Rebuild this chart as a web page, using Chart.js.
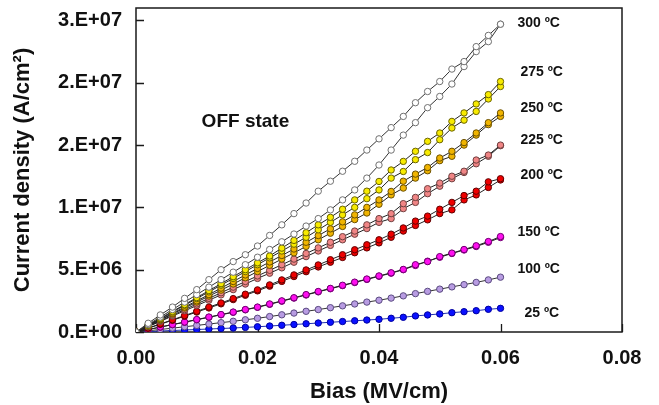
<!DOCTYPE html>
<html>
<head>
<meta charset="utf-8">
<script src="https://cdn.jsdelivr.net/npm/chart.js@4.4.1/dist/chart.umd.min.js"></script>
<style>
  html, body { margin: 0; padding: 0; background: #fff; }
  #wrap { width: 659px; height: 405px; }
</style>
</head>
<body>
<div id="wrap"><canvas id="chart" width="659" height="405"></canvas></div>
<script>
// Bias (MV/cm), same steps for every sweep
const bias = [0.000, 0.002, 0.004, 0.006, 0.008, 0.010, 0.012, 0.014, 0.016, 0.018, 0.020,
  0.022, 0.024, 0.026, 0.028, 0.030, 0.032, 0.034, 0.036, 0.038, 0.040,
  0.042, 0.044, 0.046, 0.048, 0.050, 0.052, 0.054, 0.056, 0.058, 0.060];

// Current density, in 1E+06 A/cm2 (two sweeps per temperature for most of them)
const j25 = [0, 0.03, 0.08, 0.12, 0.16, 0.20, 0.24, 0.28, 0.32, 0.37, 0.42, 0.48, 0.54, 0.60, 0.66, 0.72, 0.78, 0.84, 0.90, 0.96, 1.02, 1.10, 1.18, 1.29, 1.37, 1.45, 1.55, 1.63, 1.71, 1.82, 1.90];
const j100 = [0, 0.10, 0.20, 0.31, 0.42, 0.53, 0.64, 0.75, 0.86, 0.98, 1.10, 1.24, 1.38, 1.52, 1.66, 1.80, 1.95, 2.10, 2.25, 2.40, 2.55, 2.72, 2.90, 3.08, 3.26, 3.44, 3.62, 3.80, 3.98, 4.18, 4.40];
const j150a = [0, 0.20, 0.40, 0.60, 0.80, 1.00, 1.20, 1.40, 1.60, 1.80, 2.00, 2.25, 2.50, 2.75, 3.00, 3.25, 3.50, 3.75, 4.00, 4.25, 4.50, 4.75, 5.02, 5.40, 5.65, 6.05, 6.33, 6.62, 6.92, 7.26, 7.66];
const j150b = [0, 0.19, 0.39, 0.59, 0.78, 0.98, 1.18, 1.38, 1.58, 1.78, 1.98, 2.22, 2.47, 2.72, 2.97, 3.22, 3.47, 3.72, 3.97, 4.22, 4.47, 4.72, 5.00, 5.34, 5.68, 6.00, 6.30, 6.58, 6.86, 7.20, 7.58];
const j200a = [0, 0.32, 0.65, 0.98, 1.32, 1.66, 2.00, 2.33, 2.68, 3.03, 3.38, 3.78, 4.18, 4.58, 4.98, 5.38, 5.80, 6.20, 6.60, 7.00, 7.40, 7.85, 8.35, 8.90, 9.30, 9.85, 10.40, 10.95, 11.30, 12.05, 12.30];
const j200b = [0, 0.30, 0.62, 0.94, 1.27, 1.60, 1.93, 2.26, 2.60, 2.95, 3.30, 3.68, 4.06, 4.45, 4.84, 5.22, 5.60, 5.98, 6.36, 6.75, 7.15, 7.60, 8.10, 8.55, 9.00, 9.50, 9.80, 10.60, 11.00, 11.60, 12.20];
const j225a = [0, 0.45, 0.90, 1.35, 1.80, 2.25, 2.70, 3.15, 3.60, 4.05, 4.50, 4.95, 5.40, 5.85, 6.30, 6.75, 7.20, 7.65, 8.10, 8.60, 9.10, 9.50, 10.30, 10.80, 11.50, 11.95, 12.50, 12.90, 13.80, 14.20, 15.00];
const j225b = [0, 0.42, 0.85, 1.28, 1.70, 2.12, 2.55, 2.98, 3.40, 3.85, 4.30, 4.72, 5.15, 5.60, 6.05, 6.50, 6.95, 7.40, 7.85, 8.30, 8.80, 9.10, 9.90, 10.40, 11.10, 11.70, 12.30, 12.80, 13.50, 14.10, 14.95];
const j250a = [0, 0.50, 1.00, 1.50, 2.00, 2.50, 3.00, 3.52, 4.05, 4.58, 5.10, 5.62, 6.14, 6.66, 7.20, 7.74, 8.28, 8.84, 9.40, 10.00, 10.60, 11.28, 12.10, 12.67, 13.20, 13.96, 14.50, 15.20, 15.97, 16.80, 17.58];
const j250b = [0, 0.48, 0.96, 1.44, 1.92, 2.40, 2.88, 3.36, 3.85, 4.35, 4.85, 5.35, 5.85, 6.35, 6.87, 7.40, 7.93, 8.47, 9.02, 9.55, 10.25, 11.00, 11.55, 12.35, 12.94, 13.75, 14.10, 15.00, 15.80, 16.64, 17.30];
const j275a = [0, 0.55, 1.10, 1.65, 2.20, 2.76, 3.32, 3.88, 4.44, 5.00, 5.55, 6.10, 6.73, 7.35, 7.97, 8.60, 9.20, 9.85, 10.60, 11.30, 12.08, 13.00, 13.69, 14.50, 15.30, 15.97, 16.90, 17.58, 18.30, 19.05, 20.10];
const j275b = [0, 0.53, 1.06, 1.60, 2.14, 2.68, 3.22, 3.76, 4.30, 4.85, 5.40, 5.95, 6.50, 7.05, 7.60, 8.20, 8.80, 9.40, 10.00, 10.70, 11.40, 12.35, 12.88, 13.83, 14.40, 15.43, 16.37, 17.00, 17.70, 18.70, 19.70];
const j300a = [0, 0.70, 1.37, 2.00, 2.70, 3.40, 4.20, 5.00, 5.65, 6.20, 6.90, 7.75, 8.60, 9.50, 10.35, 11.30, 12.10, 12.90, 13.70, 14.60, 15.50, 16.40, 17.30, 18.40, 19.30, 20.10, 21.10, 21.70, 22.90, 23.80, 24.70];
const j300b = [0, 0.60, 1.20, 1.80, 2.40, 3.00, 3.60, 4.20, 4.80, 5.40, 6.00, 6.62, 7.24, 7.86, 8.50, 9.10, 9.80, 10.60, 11.40, 12.35, 13.40, 14.60, 15.80, 16.80, 18.00, 18.90, 19.90, 21.30, 22.50, 23.30, 24.70];

// axis ticks, as printed on the figure
const xTickValues = [0, 0.02, 0.04, 0.06, 0.08];
const xTickLabels = ['0.00', '0.02', '0.04', '0.06', '0.08'];
const yTickValues = [0, 5e6, 1e7, 1.5e7, 2e7, 2.5e7];
const yTickLabels = ['0.E+00', '5.E+06', '1.E+07', '2.E+07', '2.E+07', '3.E+07'];

const tempNames = ['300 ºC', '275 ºC', '250 ºC', '225 ºC', '200 ºC', '150 ºC', '100 ºC', '25 ºC'];

const FONT = "'Liberation Sans', Arial, sans-serif";

// one entry per temperature: sweeps, marker colours, label nudge (px)
const groups = [
  { name: tempNames[0], sweeps: [j300a, j300b], fill: '#ffffff', edge: '#707070', line: '#333333', dx: 17, dy: -1 },
  { name: tempNames[1], sweeps: [j275a, j275b], fill: '#f7ea00', edge: '#6b6400', line: '#222222', dx: 20, dy: -9 },
  { name: tempNames[2], sweeps: [j250a, j250b], fill: '#f0b400', edge: '#6b5000', line: '#222222', dx: 20, dy: -5 },
  { name: tempNames[3], sweeps: [j225a, j225b], fill: '#f08585', edge: '#704040', line: '#222222', dx: 20, dy: -5 },
  { name: tempNames[4], sweeps: [j200a, j200b], fill: '#ee0000', edge: '#600000', line: '#222222', dx: 20, dy: -4 },
  { name: tempNames[5], sweeps: [j150a, j150b], fill: '#ff10f0', edge: '#700070', line: '#222222', dx: 17, dy: -4 },
  { name: tempNames[6], sweeps: [j100], fill: '#b89ce2', edge: '#5a4a80', line: '#333333', dx: 17, dy: -8 },
  { name: tempNames[7], sweeps: [j25], fill: '#0a10ff', edge: '#0000a0', line: '#2030b0', dx: 24, dy: 5 }
];

const datasets = [];
groups.forEach(g => {
  g.sweeps.forEach(s => {
    datasets.push({
      data: s.map((v, i) => ({ x: bias[i], y: v * 1e6 })),
      showLine: true,
      borderColor: g.line,
      borderWidth: 1,
      pointRadius: 3.2,
      pointBorderWidth: 1,
      pointBackgroundColor: g.fill,
      pointBorderColor: g.edge,
      tension: 0
    });
  });
});

// frame, inside tick marks and the text notes
const decor = {
  id: 'decor',
  beforeDatasetsDraw(chart) {
    const { ctx, chartArea: a, scales: { x, y } } = chart;
    ctx.save();
    ctx.strokeStyle = '#1a1a1a';
    ctx.lineWidth = 1.5;
    ctx.strokeRect(a.left, a.top, a.right - a.left, a.bottom - a.top);
    ctx.lineWidth = 1.3;
    ctx.beginPath();
    y.ticks.forEach(t => {
      const py = Math.round(y.getPixelForValue(t.value)) + 0.5;
      ctx.moveTo(a.left, py);
      ctx.lineTo(a.left + 8, py);
    });
    x.ticks.forEach(t => {
      const px = Math.round(x.getPixelForValue(t.value)) + 0.5;
      ctx.moveTo(px, a.bottom);
      ctx.lineTo(px, a.bottom - 8);
    });
    ctx.stroke();
    ctx.restore();
  },
  afterDraw(chart) {
    const { ctx, scales: { x, y } } = chart;
    ctx.save();
    ctx.fillStyle = '#111';
    ctx.textBaseline = 'middle';
    ctx.textAlign = 'left';
    ctx.font = 'bold 14px ' + FONT;
    groups.forEach(g => {
      const last = g.sweeps[0];
      const px = x.getPixelForValue(bias[bias.length - 1]) + g.dx;
      const py = y.getPixelForValue(last[last.length - 1] * 1e6) + g.dy;
      ctx.fillText(g.name, px, py);
    });
    ctx.font = 'bold 19px ' + FONT;
    ctx.fillText('OFF state', x.getPixelForValue(0.0108), y.getPixelForValue(1.69e7));
    ctx.restore();
  }
};

new Chart(document.getElementById('chart'), {
  type: 'scatter',
  data: { datasets: datasets },
  plugins: [decor],
  options: {
    responsive: false,
    animation: false,
    layout: { padding: { left: 0, right: 37, top: 8, bottom: 0 } },
    plugins: {
      legend: { display: false },
      tooltip: { enabled: false }
    },
    scales: {
      x: {
        type: 'linear',
        min: 0,
        max: 0.08,
        afterBuildTicks: s => { s.ticks = xTickValues.map(v => ({ value: v })); },
        afterFit: s => {
          s.height = 73;
          s.paddingLeft = 0;
          s.paddingRight = 0;
        },
        grid: { display: false, drawTicks: false },
        border: { display: false },
        ticks: {
          padding: 14,
          maxRotation: 0,
          autoSkip: false,
          color: '#111',
          font: { family: FONT, size: 20, weight: 'bold' },
          callback: (v, i) => xTickLabels[i]
        },
        title: {
          display: true,
          text: 'Bias (MV/cm)',
          color: '#111',
          font: { family: FONT, size: 22, weight: 'bold' },
          padding: { top: 0, bottom: 0 }
        }
      },
      y: {
        type: 'linear',
        min: 0,
        max: 2.6e7,
        afterBuildTicks: s => { s.ticks = yTickValues.map(v => ({ value: v })); },
        afterFit: s => {
          s.width = 136;
          s.paddingTop = 0;
          s.paddingBottom = 0;
        },
        grid: { display: false, drawTicks: false },
        border: { display: false },
        ticks: {
          padding: 14,
          autoSkip: false,
          color: '#111',
          font: { family: FONT, size: 20, weight: 'bold' },
          callback: (v, i) => yTickLabels[i]
        },
        title: {
          display: true,
          text: 'Current density (A/cm²)',
          color: '#111',
          font: { family: FONT, size: 22, weight: 'bold' },
          padding: { top: 10, bottom: 0 }
        }
      }
    }
  }
});
</script>
</body>
</html>
